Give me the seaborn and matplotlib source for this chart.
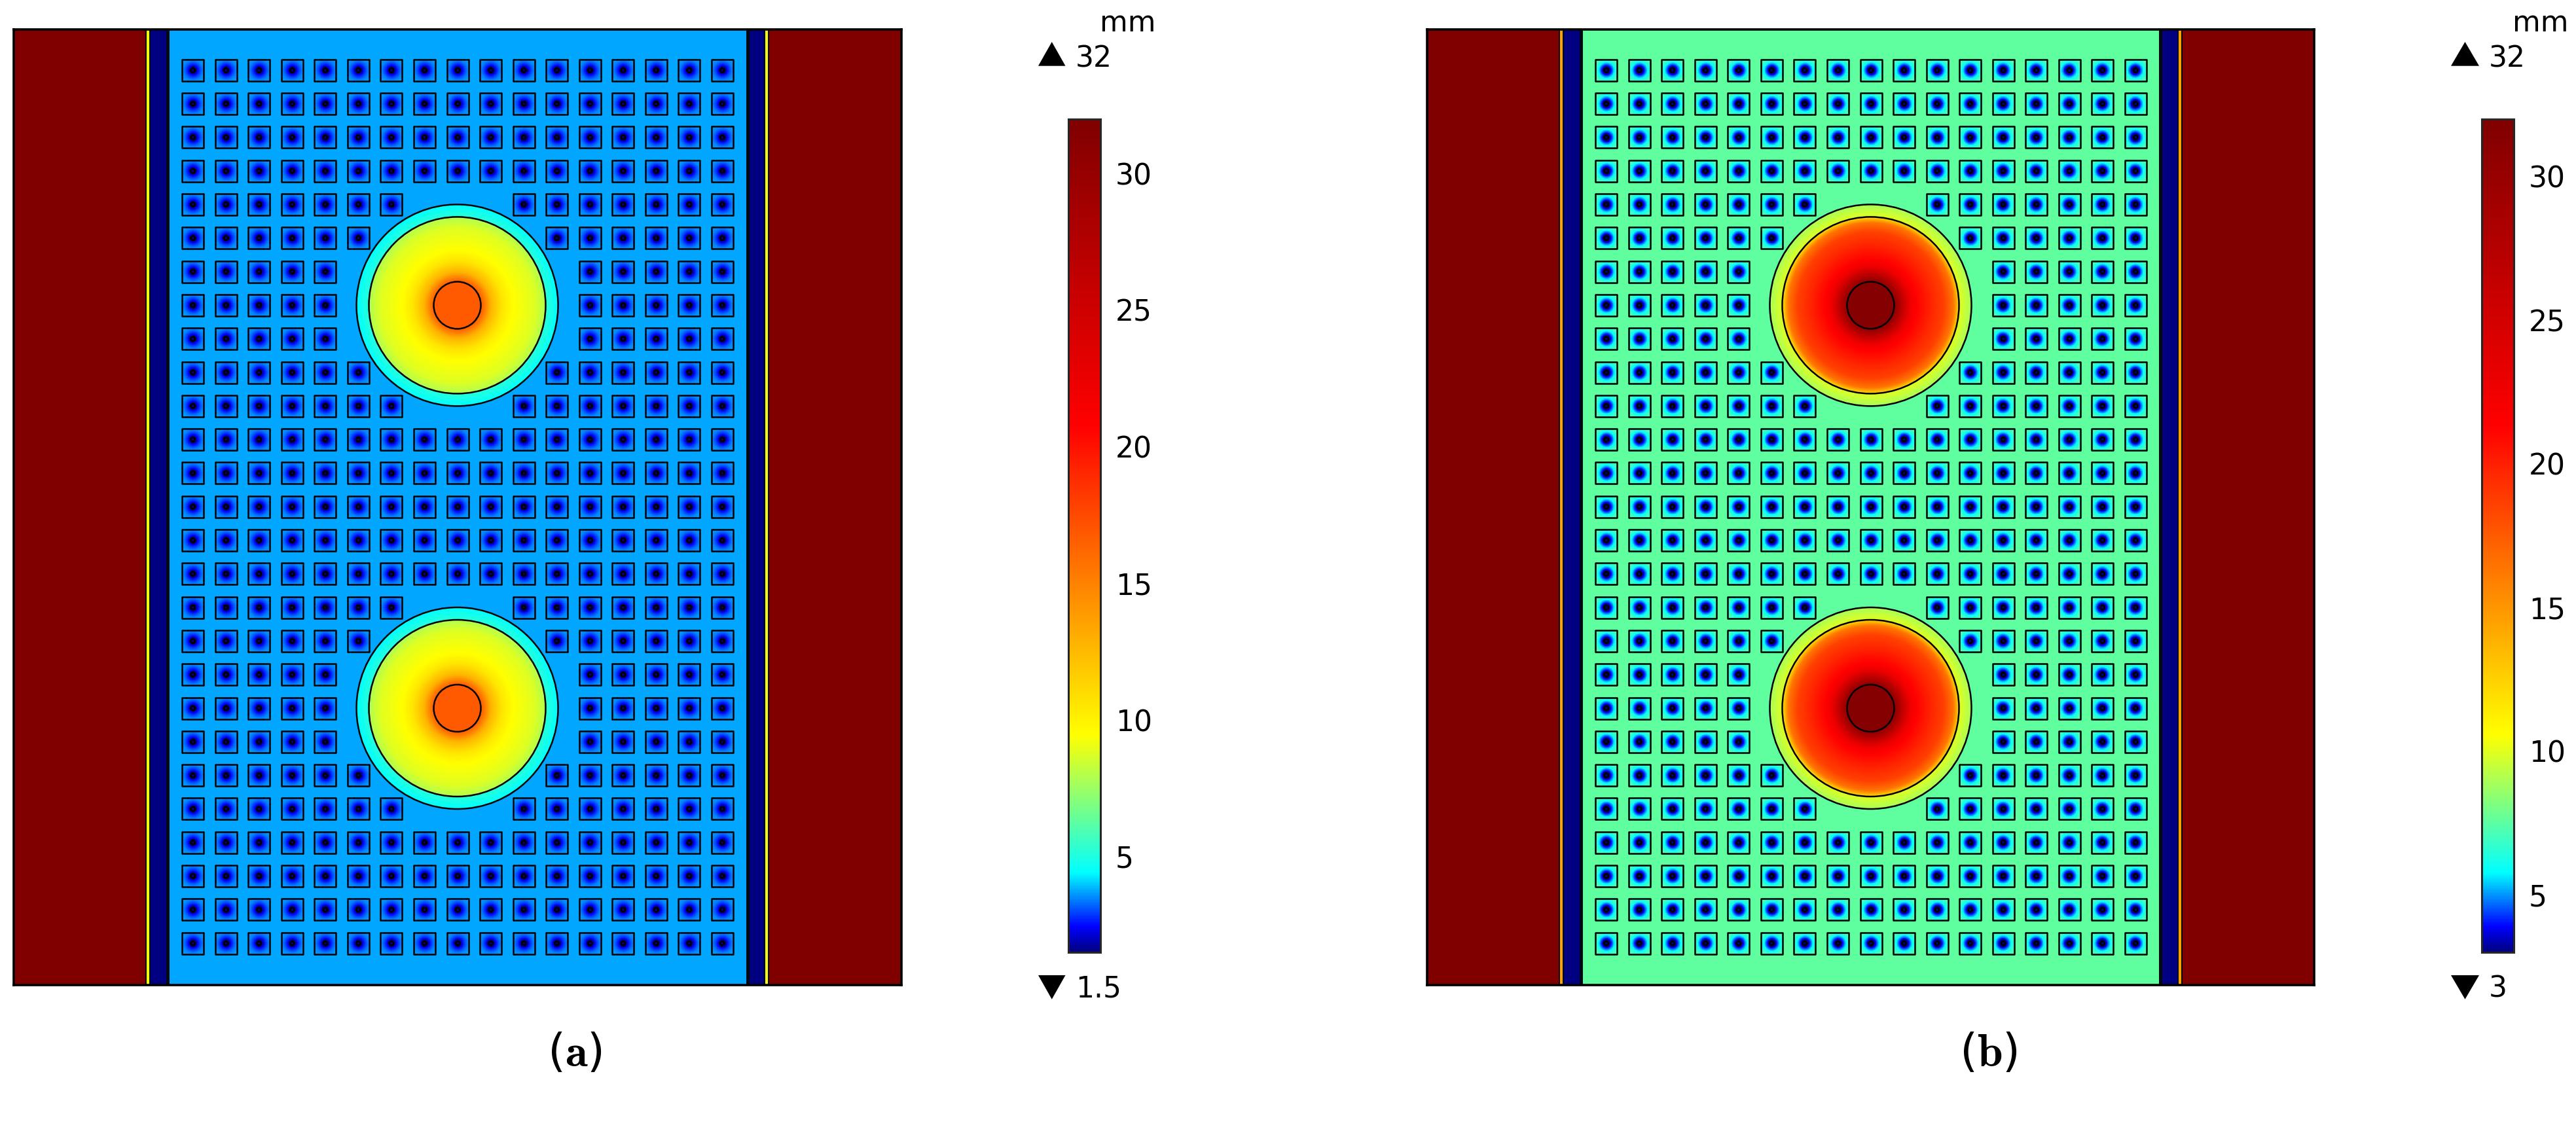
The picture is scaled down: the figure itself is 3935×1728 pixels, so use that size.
import numpy as np
import pandas as pd
import matplotlib
matplotlib.use('Agg')
import matplotlib.pyplot as plt
import seaborn as sns
from matplotlib.colors import LinearSegmentedColormap
from matplotlib.patches import Circle, Polygon, Rectangle

# Tamanho da figura em pixels
W, H = 3935, 1728
CELL = 2  # pixels por celula do heatmap

# Linhas de quadrados sem celulas perto dos circulos (grade de 27 x 17)
n_rows = 27
n_cols = 17
gap_rows = [4, 5, 6, 7, 8, 9, 10, 16, 17, 18, 19, 20, 21, 22]
gap_first = [7, 6, 5, 5, 5, 6, 7, 7, 6, 5, 5, 5, 6, 7]
gap_last = [9, 10, 11, 11, 11, 10, 9, 9, 10, 11, 11, 11, 10, 9]
circle_rows = [7, 19]

# Paleta (posicao na barra, cor)
color_pos = [0.0, 0.03, 0.095, 0.26, 0.632, 1.0]
color_list = ['#000080', '#0000ff', '#00ffff', '#ffff00', '#ff0000', '#800000']

# Valores, painel (a)
a_vmin, a_vmax = 1.5, 32
a_back = 3.74
a_strip = 9.3
a_core = 16.8
a_disc_r = [36, 51, 68, 84, 118, 131, 135]
a_disc_v = [16.8, 12.8, 10.6, 9.5, 8.8, 8.1, 7.9]
a_ring_r = [135, 154]
a_ring_v = [5.2, 4.4]
a_cell_r = [5, 7, 11, 15, 23]
a_cell_v = [1.5, 2.4, 3.0, 3.45, 3.74]

# Valores, painel (b)
b_vmin, b_vmax = 3, 32
b_back = 7.55
b_strip = 14.6
b_core = 31.5
b_disc_r = [36, 50, 60, 70, 92, 112, 126, 132, 135]
b_disc_v = [31, 26, 22.7, 21.3, 19.8, 18.6, 16.4, 13.5, 11.7]
b_ring_r = [135, 154]
b_ring_v = [10, 8.9]
b_cell_r = [5, 7, 12, 16, 23]
b_cell_v = [3, 3.9, 5.75, 6.7, 7.55]

cbar_ticks = [30, 25, 20, 15, 10, 5]

# Geometria em pixels, a partir do canto do painel
PANEL_W, PANEL_H = 1356, 1460
TOP = 45
WALL_END = 203
STRIP_END = 208
NAVY_END = 234
COL0, COL_STEP = 274.1, 50.55
ROW0, ROW_STEP = 62.3, 51.3
CELL_HALF = 16.5
R_CORE, R_DISC, R_RING = 36, 135, 154

cmap = LinearSegmentedColormap.from_list('campo', list(zip(color_pos, color_list)), N=512)


def fx(px):
    return px / W


def fy(py):
    return 1 - py / H


def celulas_presentes():
    # Retorna as celulas (linha, coluna) da grade que existem
    celulas = []
    for r in range(n_rows):
        for c in range(n_cols):
            if r in gap_rows:
                i = gap_rows.index(r)
                if gap_first[i] <= c <= gap_last[i]:
                    continue
            celulas.append((r, c))
    return celulas


def monta_campo(vmin, vmax, back, strip, core, disc_r, disc_v, ring_r, ring_v, cell_r, cell_v):
    nx, ny = PANEL_W // CELL, PANEL_H // CELL
    x = (np.arange(nx) + 0.5) * CELL
    y = (np.arange(ny) + 0.5) * CELL
    xx, yy = np.meshgrid(x, y)
    campo = np.full((ny, nx), float(back))

    # Faixas laterais (espelhadas)
    dist = np.minimum(xx, PANEL_W - xx)
    campo[dist < NAVY_END] = vmin
    campo[dist < STRIP_END] = strip
    campo[dist < WALL_END] = vmax

    # Quadrados
    for r, c in celulas_presentes():
        cx = COL0 + c * COL_STEP
        cy = ROW0 + r * ROW_STEP
        mask = (np.abs(xx - cx) < CELL_HALF) & (np.abs(yy - cy) < CELL_HALF)
        rr = np.hypot(xx[mask] - cx, yy[mask] - cy)
        campo[mask] = np.interp(rr, cell_r, cell_v)

    # Circulos
    cx = PANEL_W / 2
    for r in circle_rows:
        cy = ROW0 + r * ROW_STEP
        rr = np.hypot(xx - cx, yy - cy)
        m = rr < R_RING
        campo[m] = np.interp(rr[m], ring_r, ring_v)
        m = rr < R_DISC
        campo[m] = np.interp(rr[m], disc_r, disc_v)
        campo[rr < R_CORE] = core
    return pd.DataFrame(campo)


def desenha_painel(fig, left, campo, vmin, vmax):
    ax = fig.add_axes([fx(left), fy(TOP + PANEL_H), PANEL_W / W, PANEL_H / H])
    sns.heatmap(campo, ax=ax, cmap=cmap, vmin=vmin, vmax=vmax, cbar=False,
                xticklabels=False, yticklabels=False, rasterized=True)
    for s in ax.spines.values():
        s.set_visible(True)
        s.set_linewidth(2.6)
        s.set_color('black')

    lw = 1.8
    # Linhas verticais das faixas
    for d, largura in [(WALL_END - 0.5, 1.4), (STRIP_END + 0.5, 1.4), (NAVY_END + 1, 3.6)]:
        for xp in (d, PANEL_W - d):
            ax.axvline(xp / CELL, color='#000a10', lw=largura)

    # Contornos dos quadrados
    for r, c in celulas_presentes():
        cx = (COL0 + c * COL_STEP) / CELL
        cy = (ROW0 + r * ROW_STEP) / CELL
        h = CELL_HALF / CELL
        ax.add_patch(Rectangle((cx - h, cy - h), 2 * h, 2 * h, fill=False, ec='black',
                               lw=lw, joinstyle='round'))
        ax.add_patch(Circle((cx, cy), 3.2 / CELL, fill=False, ec='black', lw=2.0))

    # Contornos dos circulos
    for r in circle_rows:
        cy = (ROW0 + r * ROW_STEP) / CELL
        for raio in (R_CORE, R_DISC, R_RING):
            ax.add_patch(Circle((PANEL_W / 2 / CELL, cy), raio / CELL, fill=False, ec='black', lw=lw))
    return ax


def desenha_barra(fig, left, right, vmin, vmax):
    top, bottom = 181.7, 1455
    cax = fig.add_axes([fx(left), fy(bottom), (right - left) / W, (bottom - top) / H])
    valores = np.linspace(vmax, vmin, 512).reshape(-1, 1)
    sns.heatmap(pd.DataFrame(valores), ax=cax, cmap=cmap, vmin=vmin, vmax=vmax, cbar=False,
                xticklabels=False, yticklabels=False, rasterized=True)
    for s in cax.spines.values():
        s.set_visible(True)
        s.set_linewidth(2.2)
    pos = [(vmax - t) / (vmax - vmin) * len(valores) for t in cbar_ticks]
    cax.set_yticks(pos)
    cax.set_yticklabels([str(t) for t in cbar_ticks], fontsize=FS, color='black')
    cax.yaxis.set_ticks_position('both')
    cax.tick_params(axis='y', direction='in', length=6.5, width=2, left=True, right=True,
                    labelleft=False, labelright=True, pad=16.5, colors='black')


def desenha_extremos(fig, tri_left, tri_right, txt_x, mm_x, baixo):
    fig.text(fx(mm_x), fy(48), 'mm', fontsize=FS, va='baseline', ha='left', color='black')
    fig.text(fx(txt_x), fy(102.7), '32', fontsize=FS, va='baseline', ha='left', color='black')
    fig.text(fx(txt_x), fy(1524), baixo, fontsize=FS, va='baseline', ha='left', color='black')
    meio = (tri_left + tri_right) / 2
    cima = [(fx(tri_left), fy(100.7)), (fx(tri_right), fy(100.7)), (fx(meio), fy(64))]
    embaixo = [(fx(tri_left), fy(1490)), (fx(tri_right), fy(1490)), (fx(meio), fy(1526.7))]
    for tri in (cima, embaixo):
        fig.add_artist(Polygon(tri, closed=True, fc='black', ec='none', transform=fig.transFigure))


FS = 31.7
sns.set_theme(style='white')
plt.rcParams['font.family'] = ['DejaVu Sans']
plt.rcParams['mathtext.fontset'] = 'cm'

fig = plt.figure(figsize=(W / 100, H / 100), dpi=100, facecolor='white')

campo_a = monta_campo(a_vmin, a_vmax, a_back, a_strip, a_core, a_disc_r, a_disc_v,
                      a_ring_r, a_ring_v, a_cell_r, a_cell_v)
campo_b = monta_campo(b_vmin, b_vmax, b_back, b_strip, b_core, b_disc_r, b_disc_v,
                      b_ring_r, b_ring_v, b_cell_r, b_cell_v)

desenha_painel(fig, 20.5, campo_a, a_vmin, a_vmax)
desenha_painel(fig, 2179.5, campo_b, b_vmin, b_vmax)

desenha_barra(fig, 1632, 1681, a_vmin, a_vmax)
desenha_barra(fig, 3791, 3840, b_vmin, b_vmax)

desenha_extremos(fig, 1586, 1627.5, 1643, 1680, '1.5')
desenha_extremos(fig, 3744, 3787, 3802, 3838, '3')

fig.text(fx(878), fy(1609), r'($\mathbf{a}$)', fontsize=50, ha='center', va='center', color='black')
fig.text(fx(3037), fy(1609), r'($\mathbf{b}$)', fontsize=50, ha='center', va='center', color='black')

fig.savefig('out.png', dpi=100, facecolor='white')
